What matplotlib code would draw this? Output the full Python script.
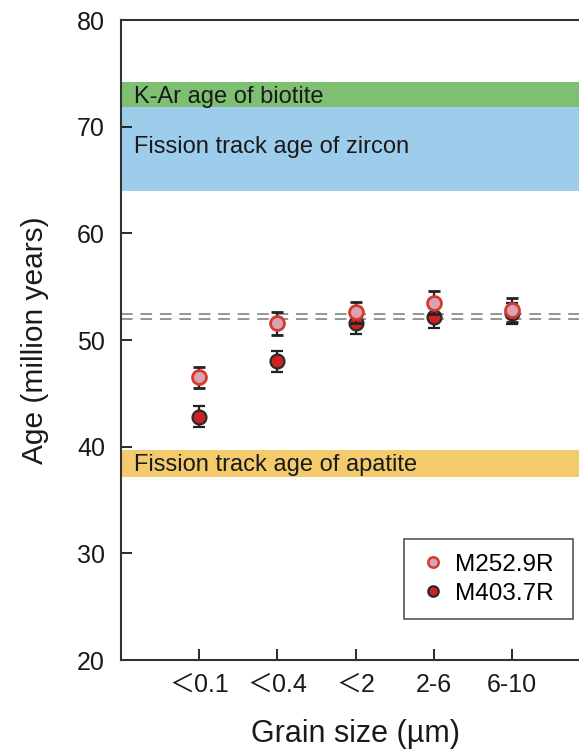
import matplotlib
matplotlib.use("Agg")
import matplotlib.pyplot as plt
from matplotlib.lines import Line2D
import numpy as np

categories = ["＜0.1", "＜0.4", "＜2", "2-6", "6-10"]
m252_age = [46.5, 51.55, 52.6, 53.5, 52.8]
m252_err = [1.0, 1.1, 1.0, 1.1, 1.1]
m403_age = [42.8, 48.0, 51.6, 52.2, 52.5]
m403_err = [1.0, 1.0, 1.0, 1.1, 1.0]

bands = [
    ("K-Ar age of biotite", 71.85, 74.2, "#7fbf72"),
    ("Fission track age of zircon", 64.0, 71.85, "#9dcdea"),
    ("Fission track age of apatite", 37.15, 39.7, "#f4cb6c"),
]
band_label_y = [72.8, 68.1, 38.3]
ref_lines = [52.4, 52.0]

plt.rcParams['font.family'] = ['Liberation Sans', 'Noto Sans CJK JP', 'DejaVu Sans']

fig = plt.figure(figsize=(5.79, 7.54), dpi=100)
left = 121 / 579
bottom = 1 - 660 / 754
top = 1 - 20 / 754
ax = fig.add_axes([left, bottom, (590 - 121) / 579, top - bottom])

x = np.arange(1, len(categories) + 1)

for (lab, lo, hi, col), ly in zip(bands, band_label_y):
    ax.axhspan(lo, hi, color=col, lw=0, zorder=0)
    ax.text(0.16, ly, lab, fontsize=17, va='center', ha='left', color='#1a1a1a', zorder=1)

for yl in ref_lines:
    ax.axhline(yl, color='#959595', lw=1.4, dashes=(6, 4), zorder=1)

ax.errorbar(x, m403_age, yerr=m403_err, fmt='o', ms=10, mfc='#cc2222', mec='#2a2a2a',
            mew=1.6, ecolor='#222222', elinewidth=1.6, capsize=4.3, capthick=1.8,
            zorder=3)
ax.errorbar(x, m252_age, yerr=m252_err, fmt='o', ms=10, mfc='#d9a3b3', mec='#d43a2e',
            mew=2.0, ecolor='#222222', elinewidth=1.6, capsize=4.3, capthick=1.8,
            zorder=4)

ax.set_xlim(0, 6)
ax.set_ylim(20, 80)
ax.set_yticks([20, 30, 40, 50, 60, 70, 80])
ax.set_xticks(x)
ax.set_xticklabels(categories)
ax.tick_params(axis='both', direction='in', length=8, width=1.3, labelsize=18, colors='#1a1a1a')
ax.tick_params(axis='x', pad=9)
ax.tick_params(axis='y', pad=11.5)
for s in ['left', 'bottom', 'top']:
    ax.spines[s].set_linewidth(1.5)
    ax.spines[s].set_color('#333333')
ax.spines['right'].set_visible(False)

ax.set_xlabel("Grain size (µm)", fontsize=22, labelpad=16, color='#1a1a1a')
ax.set_ylabel("Age (million years)", fontsize=21.5, labelpad=20, color='#1a1a1a')

handles = [
    Line2D([], [], ls='none', marker='o', ms=7.5, mfc='#d9a3b3', mec='#d43a2e', mew=1.8),
    Line2D([], [], ls='none', marker='o', ms=7.5, mfc='#cc2222', mec='#2a2a2a', mew=1.6),
]
labels = ["M252.9R", "M403.7R"]
x0, y0 = 404 / 579, 1 - 539 / 754
w = (573 - 404) / 579
leg = ax.legend(handles, labels, loc='upper left', mode='expand',
                bbox_to_anchor=(x0, y0 - 0.2, w, 0.2), bbox_transform=fig.transFigure,
                fontsize=17.5, fancybox=False, edgecolor='#555555', framealpha=1,
                handletextpad=0.3, handlelength=1.2, borderpad=0.6, labelspacing=0.3,
                borderaxespad=0)
leg.get_frame().set_linewidth(1.2)

fig.savefig("out.png", dpi=100)
